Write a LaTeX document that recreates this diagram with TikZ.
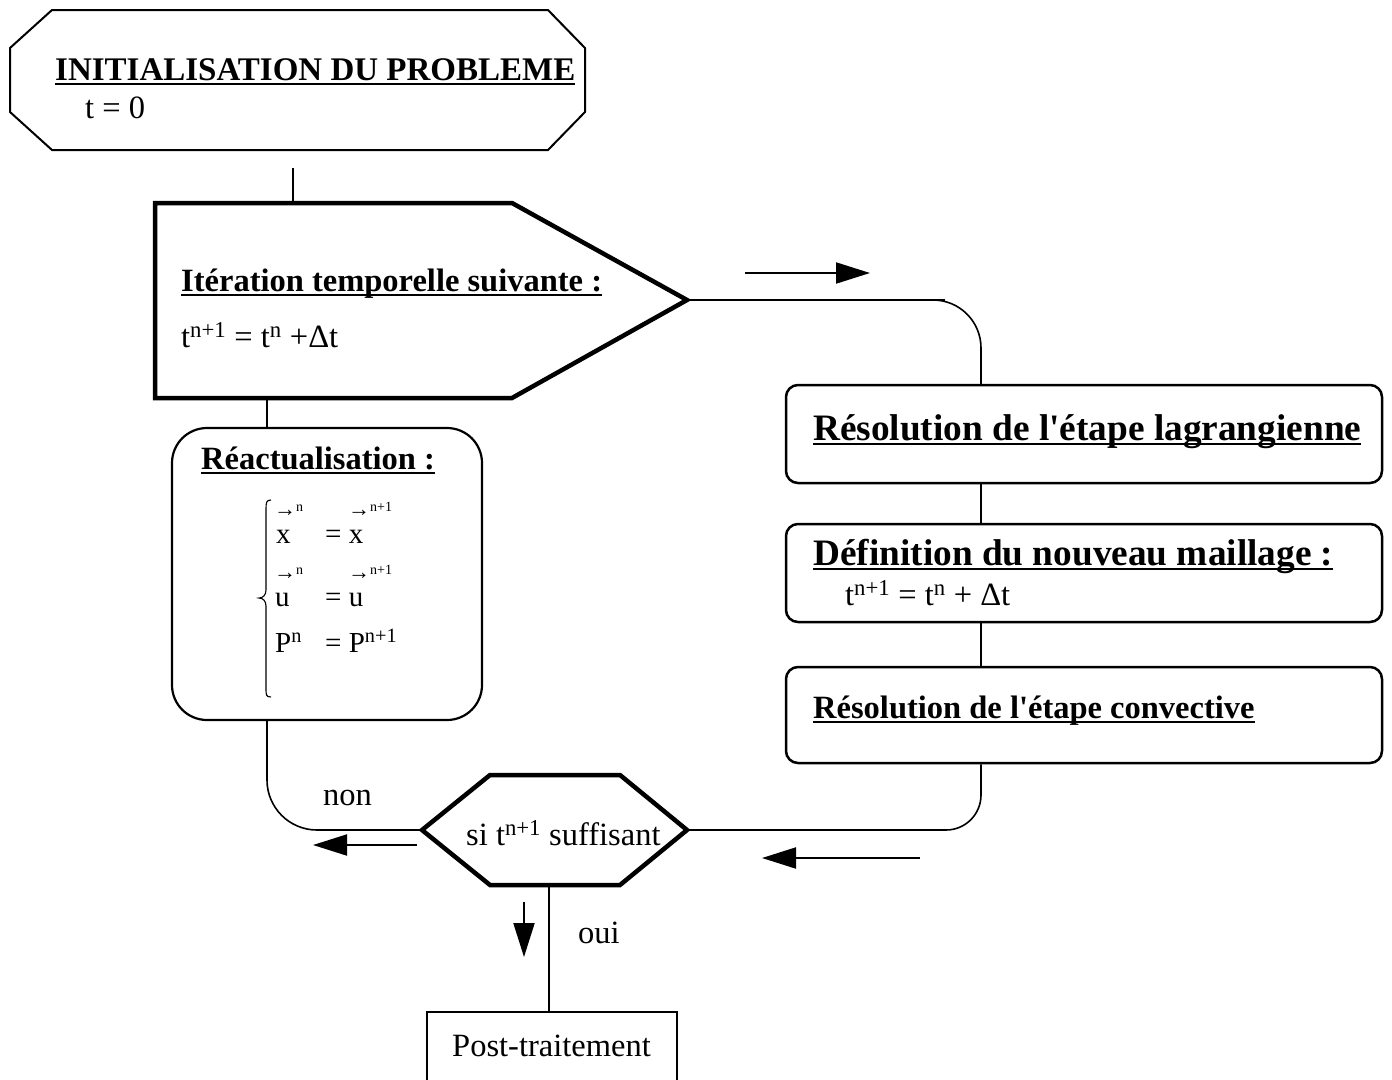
\documentclass[tikz,border=0pt]{standalone}
\usepackage{fontspec}
\setmainfont{Liberation Serif}
\usetikzlibrary{arrows.meta}

% heavy underline for the headings
\newcommand\ulbox[1]{\setbox0\hbox{#1}\rlap{\rule[-5pt]{\wd0}{1.8pt}}\box0}
% small arrow with superscript set above a vector symbol
\newcommand\vecmark[1]{{\fontsize{22}{22}\selectfont →}{\fontsize{14}{14}\selectfont\raisebox{5pt}{#1}}}
% straight apostrophe
\newcommand\apos{\textquotesingle}

\tikzset{
  txt/.style={inner sep=0pt, anchor=base west, font=\fontsize{32.5}{39}\selectfont},
  headtxt/.style={txt, font=\fontsize{33}{39}\selectfont\bfseries},
  bigtxt/.style={txt, font=\fontsize{37.3}{44}\selectfont\bfseries},
  eqtxt/.style={inner sep=0pt, anchor=base west, font=\fontsize{29}{34}\selectfont},
  markt/.style={inner sep=0pt, anchor=base west},
  link/.style={line width=1.6pt},
  heavy/.style={line width=4.5pt, line join=miter},
  outline/.style={line width=2pt, line join=miter},
  stepbox/.style={draw, line width=2.5pt, rounded corners=12pt, minimum width=596pt, inner sep=0pt},
  flowarrow/.style={line width=2pt, -{Triangle[length=34pt,width=21pt]}},
}

\begin{document}
\begin{tikzpicture}[x=1pt,y=-1pt]
\useasboundingbox (0,0) rectangle (1392,1079);

% ---------- initialisation ----------
\draw[outline] (52,10) -- (548,10) -- (585,48) -- (585,112) -- (548,150)
  -- (52,150) -- (10,112) -- (10,48) -- cycle;
\node[headtxt] (inittitle) at (55,80) {\ulbox{INITIALISATION DU PROBLEME}};
\node[txt] (initeq) at (85,118) {t = 0};
\coordinate (initbot) at (293,168);

% ---------- time iteration ----------
\draw[heavy] (155,203) -- (512,203) -- (687,300) -- (512,398) -- (155,398) -- cycle;
\coordinate (itertop) at (293,203);
\coordinate (itertip) at (687,300);
\coordinate (iterbot) at (267,398);
\node[txt, font=\fontsize{32.5}{39}\selectfont\bfseries] (itertitle) at (181,291) {\ulbox{Itération temporelle suivante :}};
\node[txt] (itereq) at (181,347) {t\textsuperscript{n+1} = t\textsuperscript{n} +Δt};

\draw[link] (initbot) -- (itertop);

% ---------- update box ----------
\node[draw, line width=2.2pt, rounded corners=35pt, minimum width=310pt, minimum height=292pt, inner sep=0pt]
  (reac) at (327,574) {};
\node[txt, font=\fontsize{32.5}{39}\selectfont\bfseries] (reactitle) at (201,469) {\ulbox{Réactualisation :}};
\draw[line width=1.1pt] (271,500) .. controls (266,500) and (266,503) .. (266,510) -- (266,590)
  .. controls (266,595) and (263,598) .. (259,598)
  .. controls (263,598) and (266,601) .. (266,606) -- (266,688)
  .. controls (266,695) and (266,697) .. (271,697);
\node[markt] (m1l) at (274,516) {\vecmark{n}};
\node[markt] (m1r) at (348,516) {\vecmark{n+1}};
\node[eqtxt] (e1l) at (276,543) {x};
\node[eqtxt] (e1r) at (325,543) {= x};
\node[markt] (m2l) at (274,579) {\vecmark{n}};
\node[markt] (m2r) at (348,579) {\vecmark{n+1}};
\node[eqtxt] (e2l) at (275,606) {u};
\node[eqtxt] (e2r) at (325,606) {= u};
\node[eqtxt] (e3l) at (275,652) {P\textsuperscript{n}};
\node[eqtxt] (e3r) at (325,652) {= P\textsuperscript{n+1}};

\draw[link] (iterbot) -- (iterbot |- reac.north);

% ---------- test ----------
\draw[heavy] (422,830) -- (490,775) -- (620,775) -- (687,830) -- (620,885) -- (490,885) -- cycle;
\coordinate (hexL) at (422,830);
\coordinate (hexR) at (687,830);
\coordinate (hexB) at (549,885);
\node[txt] (testtxt) at (466,845) {si t\textsuperscript{n+1} suffisant};

\draw[link, rounded corners=50pt] (iterbot |- reac.south) |- (hexL);
\node[txt] (nonlbl) at (323,805) {non};
\coordinate (aL1) at (417,845);
\coordinate (aL2) at (313,845);
\draw[flowarrow] (aL1) -- (aL2);

% ---------- post-processing ----------
\node[minimum width=250pt, minimum height=70pt, inner sep=0pt] (post) at (552,1047) {};
\draw[link] (post.south west) -- (post.north west) -- (post.north east) -- (post.south east);
\node[txt] (posttxt) at (452,1056) {Post-traitement};
\draw[link] (hexB) -- (hexB |- post.north);
\node[txt] (ouilbl) at (578,943) {oui};
\coordinate (aD1) at (524,902);
\coordinate (aD2) at (524,957);
\draw[flowarrow] (aD1) -- (aD2);

% ---------- right-hand branch ----------
\coordinate (rx) at (981,0);
\node[stepbox, minimum height=98pt] (lag) at (1084,434) {};
\node[stepbox, minimum height=98pt] (mesh) at (1084,573) {};
\node[stepbox, minimum height=96pt] (conv) at (1084,715) {};
\node[bigtxt] (lagtxt) at (813,440) {\ulbox{Résolution de l\apos étape lagrangienne}};
\node[bigtxt] (meshtxt) at (813,565) {\ulbox{Définition du nouveau maillage :}};
\node[txt] (mesheq) at (845,605) {t\textsuperscript{n+1} = t\textsuperscript{n} + Δt};
\node[txt, font=\fontsize{32.5}{39}\selectfont\bfseries] (convtxt) at (813,718) {\ulbox{Résolution de l\apos étape convective}};

\draw[link, rounded corners=48pt] (itertip) -| (rx |- lag.north);
\draw[link] (itertip) -- ++(258,0);
\draw[link] (rx |- lag.south) -- (rx |- mesh.north);
\draw[link] (rx |- mesh.south) -- (rx |- conv.north);
\draw[link, rounded corners=35pt] (rx |- conv.south) |- (hexR);

\coordinate (aR1) at (745,273);
\coordinate (aR2) at (870,273);
\draw[flowarrow] (aR1) -- (aR2);
\coordinate (aB1) at (920,858);
\coordinate (aB2) at (762,858);
\draw[flowarrow] (aB1) -- (aB2);
\end{tikzpicture}
\end{document}
